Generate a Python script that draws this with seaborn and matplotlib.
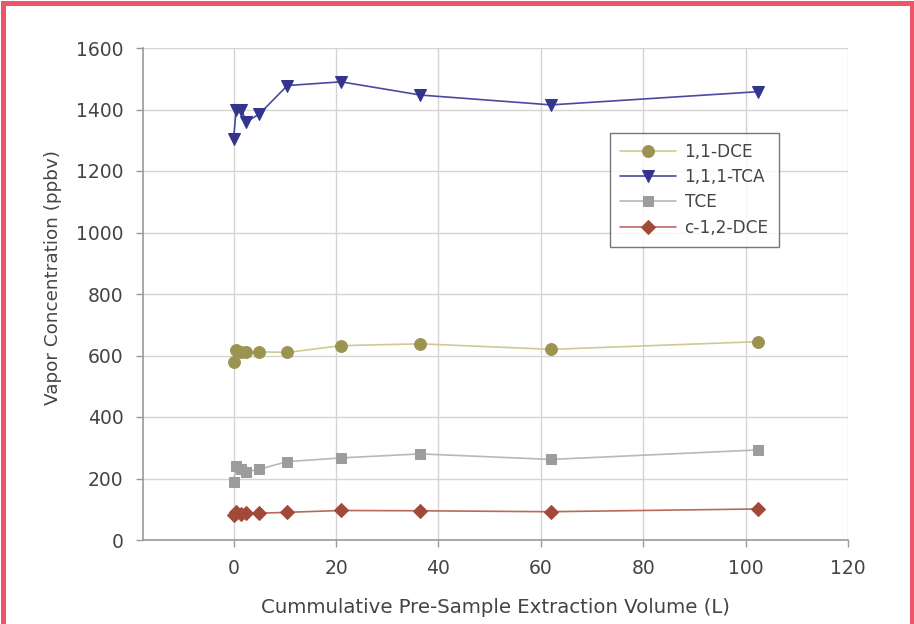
import matplotlib
matplotlib.use("Agg")
import matplotlib.pyplot as plt
import seaborn as sns
import pandas as pd
from matplotlib.patches import Rectangle

volume = [0, 0.5, 1.5, 2.5, 5, 10.5, 21, 36.5, 62, 102.5]
dce11 = [578, 618, 610, 612, 612, 610, 632, 638, 620, 645]
tca111 = [1305, 1400, 1400, 1360, 1385, 1478, 1490, 1447, 1415, 1458]
tce = [188, 242, 232, 222, 230, 255, 267, 280, 262, 293]
cdce12 = [80, 90, 85, 88, 87, 90, 96, 95, 92, 101]

series_names = ["1,1-DCE", "1,1,1-TCA", "TCE", "c-1,2-DCE"]
series_vals = [dce11, tca111, tce, cdce12]
x_ticks = [0, 20, 40, 60, 80, 100, 120]
y_ticks = [0, 200, 400, 600, 800, 1000, 1200, 1400, 1600]

rows = []
for name, vals in zip(series_names, series_vals):
    for xv, yv in zip(volume, vals):
        rows.append({"x": xv, "y": yv, "series": name})
df = pd.DataFrame(rows)

sns.set_theme(style="white")
plt.rcParams["font.family"] = ["DejaVu Sans"]

line_colors = {"1,1-DCE": "#cfc991", "1,1,1-TCA": "#4a4aa0", "TCE": "#b8b8b8", "c-1,2-DCE": "#b86a58"}
marker_colors = {"1,1-DCE": "#9a9450", "1,1,1-TCA": "#34348c", "TCE": "#9c9c9c", "c-1,2-DCE": "#a24a3a"}
markers = {"1,1-DCE": "o", "1,1,1-TCA": "v", "TCE": "s", "c-1,2-DCE": "D"}
msizes = {"1,1-DCE": 8.5, "1,1,1-TCA": 8.5, "TCE": 7.5, "c-1,2-DCE": 7}

fig = plt.figure(figsize=(9.14, 6.24), dpi=100)
ax = fig.add_axes([143 / 914, 1 - 540 / 624, (848 - 143) / 914, (540 - 48) / 624])

for name in series_names:
    sub = df[df["series"] == name]
    sns.lineplot(data=sub, x="x", y="y", ax=ax, color=line_colors[name],
                 marker=markers[name], markersize=msizes[name],
                 markerfacecolor=marker_colors[name], markeredgecolor=marker_colors[name],
                 linewidth=1.2, label=name, estimator=None, sort=False)

ax.set_xlim(-17.7, 120)
ax.set_ylim(0, 1600)
ax.set_xticks(x_ticks)
ax.set_yticks(y_ticks)
ax.grid(True, color="#d4d4d4", linewidth=1)
ax.set_axisbelow(True)
for side in ["top", "right"]:
    ax.spines[side].set_visible(False)
for side in ["left", "bottom"]:
    ax.spines[side].set_color("#9a9a9a")
    ax.spines[side].set_linewidth(1.2)
ax.tick_params(axis="both", colors="#9a9a9a", labelcolor="#444444", labelsize=13.5,
               length=5, width=1, direction="out", bottom=True, left=True)
ax.tick_params(axis="x", pad=9)
ax.tick_params(axis="y", pad=9)
ax.set_xlabel("Cummulative Pre-Sample Extraction Volume (L)", fontsize=14.2, color="#444444", labelpad=14)
ax.set_ylabel("Vapor Concentration (ppbv)", fontsize=13.2, color="#444444")
ax.yaxis.set_label_coords(-0.115, 0.534)

leg = ax.legend(loc="upper left", bbox_to_anchor=((610 - 143) / 705, 1 - (133 - 48) / 492),
                frameon=True, fancybox=False, fontsize=12.2, borderpad=0.6,
                handlelength=3.3, handletextpad=0.5, labelspacing=0.42, borderaxespad=0)
leg.get_frame().set_edgecolor("#555555")
leg.get_frame().set_linewidth(1.0)
for t in leg.get_texts():
    t.set_color("#444444")

fig.patches.append(Rectangle((2.5 / 914, -0.1), 1 - 5 / 914, 1.1 - 2.5 / 624,
                             transform=fig.transFigure, fill=False,
                             edgecolor="#f05468", linewidth=3.6, zorder=10))

fig.savefig("out.png", dpi=100)
